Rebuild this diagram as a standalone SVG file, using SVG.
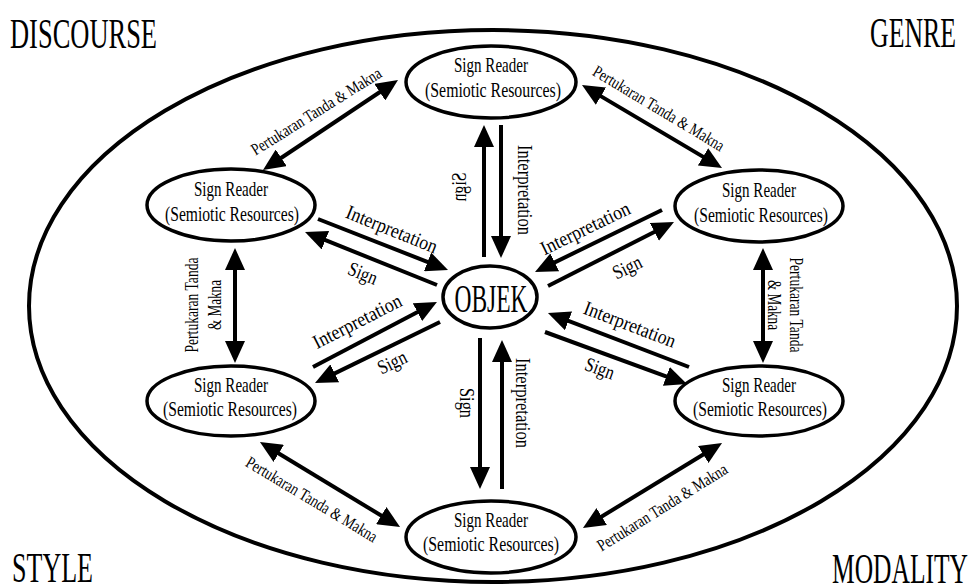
<svg xmlns="http://www.w3.org/2000/svg" width="973" height="588" viewBox="0 0 973 588">
<defs>
<style>
.node ellipse{fill:#fff;stroke:#000;stroke-width:3.5}
.nt{font-size:21px;text-anchor:middle}
.corner{font-size:43px}
.lbl{font-size:20px;text-anchor:middle}
.plbl{font-size:17px;text-anchor:middle}
.vl{font-size:19px;text-anchor:middle}
#connectors line{stroke:#000;stroke-width:4;fill:none}
.one{marker-end:url(#ah)}
.two{marker-start:url(#ah);marker-end:url(#ah)}
</style>
<marker id="ah" markerUnits="userSpaceOnUse" markerWidth="24" markerHeight="20" refX="12" refY="10" orient="auto-start-reverse" viewBox="0 0 24 20">
<path d="M0,0 L22,10 L0,20 z" fill="#000"/>
</marker>
</defs>
<rect width="973" height="588" fill="#fff"/>

<g id="frame">
<ellipse cx="493" cy="306" rx="464" ry="276" fill="none" stroke="#000" stroke-width="4"/>
</g>

<g font-family="Liberation Serif, Times New Roman, DejaVu Serif, serif" fill="#000">
<g id="corners">
<text class="corner" x="10" y="48" textLength="147" lengthAdjust="spacingAndGlyphs">DISCOURSE</text>
<text class="corner" x="870" y="47" textLength="86" lengthAdjust="spacingAndGlyphs">GENRE</text>
<text class="corner" x="12" y="582" textLength="81" lengthAdjust="spacingAndGlyphs">STYLE</text>
<text class="corner" x="832" y="583" textLength="136" lengthAdjust="spacingAndGlyphs">MODALITY</text>
</g>

<g id="connectors">
<line class="one" x1="484" y1="257" x2="484" y2="135"/>
<line class="one" x1="501" y1="125" x2="501" y2="248"/>
<line class="one" x1="480" y1="338" x2="480" y2="479"/>
<line class="one" x1="502" y1="489" x2="502" y2="350"/>
<line class="two" x1="235" y1="258" x2="235" y2="353"/>
<line class="two" x1="763" y1="258" x2="763" y2="353"/>
<line class="two" x1="271.3" y1="164.5" x2="389.7" y2="85.5"/>
<line class="two" x1="590.6" y1="90.1" x2="713.4" y2="162.9"/>
<line class="two" x1="268.5" y1="447.2" x2="391.5" y2="521.8"/>
<line class="two" x1="591.5" y1="522.8" x2="713.5" y2="448.2"/>
<line class="one" x1="318" y1="219" x2="438.7" y2="266.3"/>
<line class="one" x1="437" y1="285" x2="314.3" y2="235.7"/>
<line class="one" x1="662" y1="210" x2="544" y2="267.6"/>
<line class="one" x1="548" y1="286" x2="665.1" y2="226.5"/>
<line class="one" x1="313" y1="367" x2="428.1" y2="306.6"/>
<line class="one" x1="440" y1="322" x2="324" y2="378.6"/>
<line class="one" x1="689" y1="367" x2="557.3" y2="316.6"/>
<line class="one" x1="545" y1="332" x2="677.6" y2="380.6"/>
</g>

<g id="connector-labels">
<text class="lbl" transform="rotate(90)" x="190" y="-518" textLength="90" lengthAdjust="spacingAndGlyphs">Interpretation</text>
<text class="lbl" transform="matrix(0,1,1,0,0,0)" x="187" y="466" textLength="29" lengthAdjust="spacingAndGlyphs">Sign</text>
<text class="lbl" transform="rotate(90)" x="403" y="-516" textLength="90" lengthAdjust="spacingAndGlyphs">Interpretation</text>
<text class="lbl" transform="rotate(90)" x="403" y="-460" textLength="30" lengthAdjust="spacingAndGlyphs">Sign</text>

<text class="vl" transform="rotate(-90)" x="-305" y="198" textLength="95" lengthAdjust="spacingAndGlyphs">Pertukaran Tanda</text>
<text class="vl" transform="rotate(-90)" x="-305" y="221" textLength="50" lengthAdjust="spacingAndGlyphs">&amp; Makna</text>
<text class="vl" transform="rotate(90)" x="305" y="-790" textLength="95" lengthAdjust="spacingAndGlyphs">Pertukaran Tanda</text>
<text class="vl" transform="rotate(90)" x="305" y="-768" textLength="50" lengthAdjust="spacingAndGlyphs">&amp; Makna</text>

<text class="plbl" transform="translate(316,111) rotate(-32)" x="0" y="6" textLength="150" lengthAdjust="spacingAndGlyphs">Pertukaran Tanda &amp; Makna</text>
<text class="plbl" transform="translate(659,108) rotate(31)" x="0" y="6" textLength="150" lengthAdjust="spacingAndGlyphs">Pertukaran Tanda &amp; Makna</text>
<text class="plbl" transform="translate(312,499) rotate(31)" x="0" y="6" textLength="150" lengthAdjust="spacingAndGlyphs">Pertukaran Tanda &amp; Makna</text>
<text class="plbl" transform="translate(662,507) rotate(-32)" x="0" y="6" textLength="150" lengthAdjust="spacingAndGlyphs">Pertukaran Tanda &amp; Makna</text>

<text class="lbl" transform="translate(392,229) rotate(22)" x="0" y="7" textLength="97" lengthAdjust="spacingAndGlyphs">Interpretation</text>
<text class="lbl" transform="translate(363,273) rotate(22)" x="0" y="7" textLength="30" lengthAdjust="spacingAndGlyphs">Sign</text>
<text class="lbl" transform="translate(585,228) rotate(-26)" x="0" y="7" textLength="97" lengthAdjust="spacingAndGlyphs">Interpretation</text>
<text class="lbl" transform="translate(627,267) rotate(-26)" x="0" y="7" textLength="30" lengthAdjust="spacingAndGlyphs">Sign</text>
<text class="lbl" transform="translate(357,321) rotate(-27)" x="0" y="7" textLength="97" lengthAdjust="spacingAndGlyphs">Interpretation</text>
<text class="lbl" transform="translate(392,362) rotate(-26)" x="0" y="7" textLength="30" lengthAdjust="spacingAndGlyphs">Sign</text>
<text class="lbl" transform="translate(630,324) rotate(21)" x="0" y="7" textLength="97" lengthAdjust="spacingAndGlyphs">Interpretation</text>
<text class="lbl" transform="translate(600,368) rotate(20)" x="0" y="7" textLength="30" lengthAdjust="spacingAndGlyphs">Sign</text>
</g>

<g id="node-objek" class="node">
<ellipse cx="490" cy="297" rx="47" ry="31" stroke-width="3"/>
<text x="491" y="312" font-size="40" text-anchor="middle" textLength="73" lengthAdjust="spacingAndGlyphs">OBJEK</text>
</g>
<g id="node-top" class="node">
<ellipse cx="491" cy="82" rx="85" ry="36"/>
<text class="nt" x="491" y="72" textLength="74" lengthAdjust="spacingAndGlyphs">Sign Reader</text>
<text class="nt" x="493" y="97" textLength="136" lengthAdjust="spacingAndGlyphs">(Semiotic Resources)</text>
</g>
<g id="node-upper-left" class="node">
<ellipse cx="231" cy="205" rx="84" ry="36"/>
<text class="nt" x="231" y="196" textLength="74" lengthAdjust="spacingAndGlyphs">Sign Reader</text>
<text class="nt" x="232" y="221" textLength="134" lengthAdjust="spacingAndGlyphs">(Semiotic Resources)</text>
</g>
<g id="node-upper-right" class="node">
<ellipse cx="759" cy="206" rx="84" ry="36"/>
<text class="nt" x="759" y="197" textLength="74" lengthAdjust="spacingAndGlyphs">Sign Reader</text>
<text class="nt" x="761" y="222" textLength="134" lengthAdjust="spacingAndGlyphs">(Semiotic Resources)</text>
</g>
<g id="node-lower-left" class="node">
<ellipse cx="231" cy="401" rx="84" ry="35"/>
<text class="nt" x="231" y="392" textLength="74" lengthAdjust="spacingAndGlyphs">Sign Reader</text>
<text class="nt" x="230" y="416" textLength="134" lengthAdjust="spacingAndGlyphs">(Semiotic Resources)</text>
</g>
<g id="node-lower-right" class="node">
<ellipse cx="759" cy="401" rx="84" ry="35"/>
<text class="nt" x="759" y="392" textLength="74" lengthAdjust="spacingAndGlyphs">Sign Reader</text>
<text class="nt" x="760" y="416" textLength="134" lengthAdjust="spacingAndGlyphs">(Semiotic Resources)</text>
</g>
<g id="node-bottom" class="node">
<ellipse cx="491" cy="537" rx="85" ry="36"/>
<text class="nt" x="491" y="527" textLength="74" lengthAdjust="spacingAndGlyphs">Sign Reader</text>
<text class="nt" x="491" y="551" textLength="136" lengthAdjust="spacingAndGlyphs">(Semiotic Resources)</text>
</g>
</g>
</svg>
